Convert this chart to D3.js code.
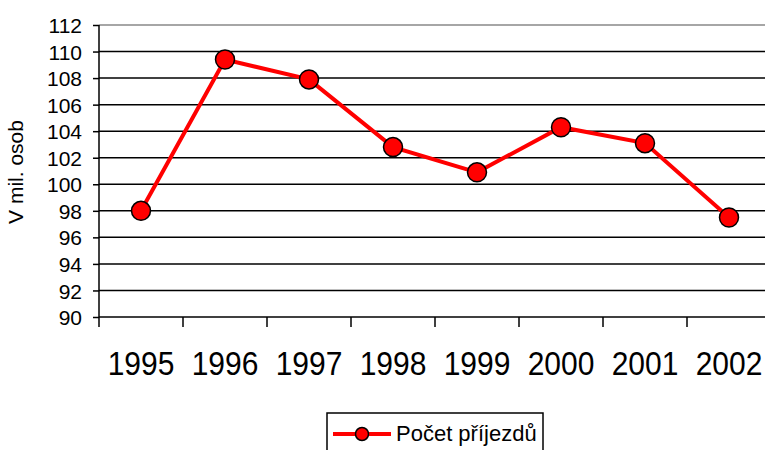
<!DOCTYPE html>
<html>
<head>
<script src="https://d3js.org/d3.v7.min.js"></script>
<style>
  body { margin: 0; background: #fff; }
  text { font-family: "Liberation Sans", Arial, sans-serif; fill: #000; }
</style>
</head>
<body>
<svg width="765" height="450"></svg>
<script>
  var years = ["1995", "1996", "1997", "1998", "1999", "2000", "2001", "2002"];
  var arrivals = [98.0, 109.4, 107.9, 102.8, 100.9, 104.3, 103.1, 97.5];
  var yTicks = [90, 92, 94, 96, 98, 100, 102, 104, 106, 108, 110, 112];
  var seriesName = "Počet příjezdů";
  var yTitle = "V mil. osob";

  var svg = d3.select("svg"),
    margin = { top: 25, left: 99 },
    width = 672,
    height = 292;

  var data = years.map(function(y, i) { return { year: y, value: arrivals[i] }; });

  var x = d3.scaleBand().domain(years).range([0, width]);
  var y = d3.scaleLinear().domain([90, 112]).range([height, 0]);

  var g = svg.append("g")
    .attr("transform", "translate(" + margin.left + "," + margin.top + ")");

  // gridlines
  g.selectAll(".grid")
    .data(yTicks)
    .enter().append("line")
    .attr("x1", 0).attr("x2", width)
    .attr("y1", function(d) { return y(d); })
    .attr("y2", function(d) { return y(d); })
    .attr("stroke", function(d) { return d === 112 ? "#888" : "#000"; })
    .attr("stroke-width", 1.5);

  // y axis
  var yAxis = g.append("g")
    .call(d3.axisLeft(y).tickValues(yTicks).tickSize(6).tickPadding(11));
  yAxis.select(".domain").attr("stroke", "#000").attr("stroke-width", 1.5).attr("d", "M0,0V" + height);
  yAxis.selectAll(".tick line").attr("stroke-width", 1.5);
  yAxis.selectAll("text")
    .style("font-size", "21px")
    .attr("dy", "0.36em");

  // x axis
  var xAxis = g.append("g")
    .attr("transform", "translate(0," + height + ")")
    .call(d3.axisBottom(x).tickSize(0).tickPadding(0));
  xAxis.select(".domain").remove();
  xAxis.selectAll("text")
    .style("font-size", "30px")
    .attr("y", 0).attr("dy", 0)
    .attr("transform", "translate(0,58) scale(1,1.1)");
  g.selectAll(".xtick")
    .data(years)
    .enter().append("line")
    .attr("x1", function(d) { return x(d); })
    .attr("x2", function(d) { return x(d); })
    .attr("y1", height).attr("y2", height + 10)
    .attr("stroke", "#000").attr("stroke-width", 1.5);

  // y title
  svg.append("text")
    .attr("transform", "translate(23,172) rotate(-90)")
    .attr("text-anchor", "middle")
    .style("font-size", "21px")
    .text(yTitle);

  // line and markers
  var line = d3.line()
    .x(function(d) { return x(d.year) + x.bandwidth() / 2; })
    .y(function(d) { return y(d.value); });

  g.append("path")
    .datum(data)
    .attr("fill", "none")
    .attr("stroke", "#ff0000")
    .attr("stroke-width", 4)
    .attr("d", line);

  g.selectAll(".pt")
    .data(data)
    .enter().append("circle")
    .attr("cx", function(d) { return x(d.year) + x.bandwidth() / 2; })
    .attr("cy", function(d) { return y(d.value); })
    .attr("r", 9.5)
    .attr("fill", "#ff0000")
    .attr("stroke", "#000")
    .attr("stroke-width", 1.5);

  // legend
  var lg = svg.append("g").attr("transform", "translate(327,413)");
  lg.append("rect")
    .attr("width", 216).attr("height", 45)
    .attr("fill", "#fff").attr("stroke", "#000").attr("stroke-width", 1.5);
  lg.append("line")
    .attr("x1", 6).attr("x2", 64).attr("y1", 21).attr("y2", 21)
    .attr("stroke", "#ff0000").attr("stroke-width", 4);
  lg.append("circle")
    .attr("cx", 35).attr("cy", 21).attr("r", 6.5)
    .attr("fill", "#ff0000").attr("stroke", "#000").attr("stroke-width", 1.5);
  lg.append("text")
    .attr("x", 69).attr("y", 28)
    .style("font-size", "22px")
    .text(seriesName);
</script>
</body>
</html>
